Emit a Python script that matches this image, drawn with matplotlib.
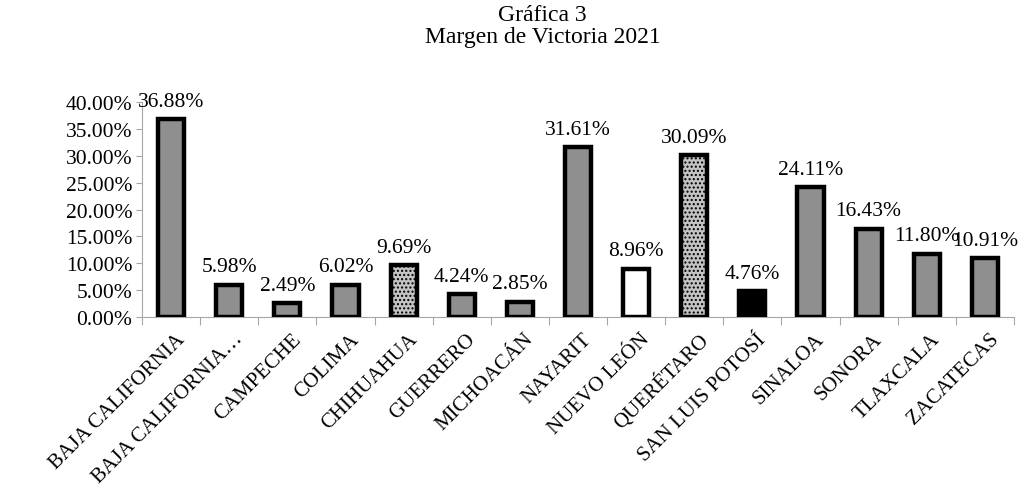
import matplotlib.pyplot as plt
import numpy as np

estados = ['BAJA CALIFORNIA', 'BAJA CALIFORNIA…', 'CAMPECHE', 'COLIMA', 'CHIHUAHUA',
           'GUERRERO', 'MICHOACÁN', 'NAYARIT', 'NUEVO LEÓN', 'QUERÉTARO',
           'SAN LUIS POTOSÍ', 'SINALOA', 'SONORA', 'TLAXCALA', 'ZACATECAS']
margen = [36.88, 5.98, 2.49, 6.02, 9.69, 4.24, 2.85, 31.61, 8.96, 30.09,
          4.76, 24.11, 16.43, 11.80, 10.91]

# relleno de cada barra
rellenos = ['#8f8f8f'] * len(estados)
tramas = [None] * len(estados)
for i in (4, 9):
    rellenos[i] = '#c4c4c4'
    tramas[i] = '....'
rellenos[8] = 'white'
rellenos[10] = 'black'

plt.rcParams['font.family'] = ['Liberation Serif', 'DejaVu Serif']
plt.rcParams['hatch.color'] = '#7a7a7a'
plt.rcParams['hatch.linewidth'] = 1.0

fig = plt.figure(figsize=(10.18, 4.89), dpi=100)
ax = fig.add_axes([0.1395, 0.35, 0.8565, 0.439])

x = np.arange(len(estados))
barras = ax.bar(x, margen, width=0.45, color=rellenos, edgecolor='black', linewidth=3.2, zorder=3)
for b, t in zip(barras, tramas):
    if t:
        b.set_hatch(t)

for xi, v in zip(x, margen):
    ax.annotate(f'{v:.2f}%', (xi, v), xytext=(0, 6), textcoords='offset points',
                ha='center', va='bottom', fontsize=15.5)

ax.set_xlim(-0.5, len(estados) - 0.5)
ax.set_ylim(0, 40)
ax.set_yticks(np.arange(0, 41, 5))
ax.set_yticklabels([f'{v:.2f}%' for v in np.arange(0, 41, 5)], fontsize=15.5)

ax.set_xticks(np.arange(-0.5, len(estados), 1))
ax.set_xticklabels([])
ax.set_xticks(x + 0.07, minor=True)
ax.set_xticklabels(estados, minor=True, rotation=45, ha='right', va='top',
                   rotation_mode='anchor', fontsize=15)
ax.tick_params(axis='x', which='minor', length=0, pad=9)
ax.tick_params(axis='x', which='major', length=6, color='#a6a6a6')
ax.tick_params(axis='y', length=4, color='#a6a6a6', pad=3)

for lado in ('top', 'right'):
    ax.spines[lado].set_visible(False)
for lado in ('left', 'bottom'):
    ax.spines[lado].set_color('#a6a6a6')

fig.text(0.533, 0.99, 'Gráfica 3\nMargen de Victoria 2021', ha='center', va='top',
         fontsize=17, linespacing=1.05)

fig.savefig('out.png', dpi=100)
